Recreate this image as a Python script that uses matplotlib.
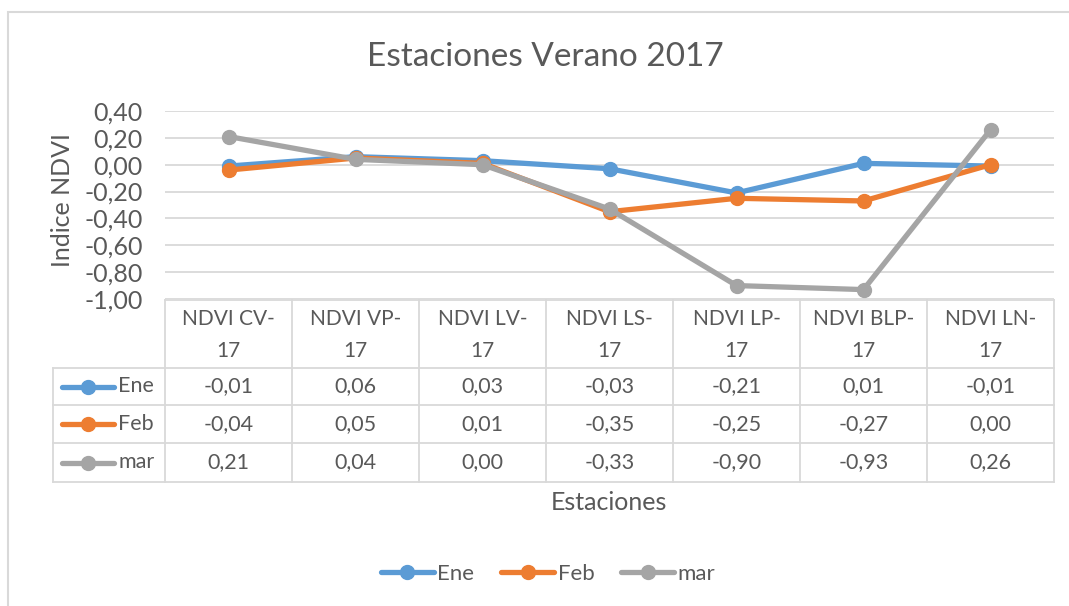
import matplotlib
matplotlib.use("Agg")
import matplotlib.pyplot as plt
from matplotlib.lines import Line2D
from matplotlib.patches import Rectangle

plt.rcParams['font.family'] = ['Lato', 'DejaVu Sans']

estaciones = ["NDVI CV-\n17", "NDVI VP-\n17", "NDVI LV-\n17", "NDVI LS-\n17",
              "NDVI LP-\n17", "NDVI BLP-\n17", "NDVI LN-\n17"]
meses = ["Ene", "Feb", "mar"]
ene = [-0.01, 0.06, 0.03, -0.03, -0.21, 0.01, -0.01]
feb = [-0.04, 0.05, 0.01, -0.35, -0.25, -0.27, 0.00]
mar = [0.21, 0.04, 0.00, -0.33, -0.90, -0.93, 0.26]
series = [ene, feb, mar]
colores = ["#5b9bd5", "#ed7d31", "#a5a5a5"]
yticks = [0.4, 0.2, 0.0, -0.2, -0.4, -0.6, -0.8, -1.0]

W, H = 1069, 606
txt = "#595959"
grid = "#d9d9d9"
fs = 15.5   # tabla
fs_ax = 18  # ejes

def fmt(v):
    return f"{v:.2f}".replace(".", ",")

fig = plt.figure(figsize=(W / 100, H / 100), dpi=100)

# borde del gráfico
fig.add_artist(Rectangle((8 / W, -0.1), 1.2, (H - 12) / H + 0.1,
                         transform=fig.transFigure, fill=False,
                         edgecolor=grid, linewidth=1.5))

# area del grafico
x0, x1 = 165, 1054
ytop, ybot = 111, 299
ax = fig.add_axes([x0 / W, (H - ybot) / H, (x1 - x0) / W, (ybot - ytop) / H])
n = len(estaciones)
xs = list(range(n))
for s, c, m in zip(series, colores, meses):
    ax.plot(xs, s, color=c, lw=3.8, marker="o", ms=10, label=m,
            solid_capstyle="round", clip_on=False)
ax.set_xlim(-0.5, n - 0.5)
ax.set_ylim(-1.0, 0.4)
ax.set_yticks(yticks)
ax.set_yticklabels([fmt(v) for v in yticks], color=txt, fontsize=fs_ax)
ax.set_xticks([])
ax.tick_params(axis="y", length=0, pad=16)
ax.grid(axis="y", color=grid, lw=1.3)
ax.set_axisbelow(True)
for sp in ax.spines.values():
    sp.set_visible(False)
fig.text(62 / W, 1 - 200 / H, "Indice NDVI", color=txt, fontsize=fs_ax,
         rotation=90, ha="center", va="center")
fig.text(545 / W, 1 - 57 / H, "Estaciones Verano 2017", color=txt,
         fontsize=24, ha="center", va="center")

# tabla de datos
cw = (x1 - x0) / n
tl, tt, tb = 53, 300, 482
rows = [300, 368, 405, 443, 482]
tax = fig.add_axes([tl / W, (H - tb) / H, (x1 - tl) / W, (tb - tt) / H])
xl = -0.5 - (x0 - tl) / cw
tax.set_xlim(xl, n - 0.5)
tax.set_ylim(tb, tt)
tax.axis("off")
lk = dict(color=grid, lw=1.3, clip_on=False)
tax.plot([-0.5, n - 0.5], [rows[0], rows[0]], **lk)
for r in rows[1:]:
    tax.plot([xl, n - 0.5], [r, r], **lk)
for k in range(n + 1):
    tax.plot([k - 0.5, k - 0.5], [rows[0], rows[-1]], **lk)
tax.plot([xl, xl], [rows[1], rows[-1]], **lk)
for i, e in enumerate(estaciones):
    tax.text(i, (rows[0] + rows[1]) / 2 + 1, e, ha="center", va="center",
             color=txt, fontsize=15, linespacing=1.75)
px = lambda p: -0.5 + (p - x0) / cw
for j, (s, c, m) in enumerate(zip(series, colores, meses)):
    yc = (rows[j + 1] + rows[j + 2]) / 2
    tax.plot([px(62), px(114)], [yc, yc], color=c, lw=3.8,
             solid_capstyle="round", clip_on=False)
    tax.plot([px(88)], [yc], "o", color=c, ms=10, clip_on=False)
    tax.text(px(118), yc, m, ha="left", va="center", color=txt, fontsize=fs)
    for i, v in enumerate(s):
        tax.text(i, yc, fmt(v), ha="center", va="center", color=txt, fontsize=fs)

fig.text(609 / W, 1 - 503 / H, "Estaciones", color=txt, fontsize=fs_ax,
         ha="center", va="center")

handles = [Line2D([], [], color=c, lw=3.8, marker="o", ms=10,
                  solid_capstyle="round") for c in colores]
fig.legend(handles, meses, loc="center", bbox_to_anchor=(548 / W, 1 - 574 / H),
           ncol=3, frameon=False, fontsize=16, labelcolor=txt,
           handlelength=2.4, handletextpad=0.15, columnspacing=1.2)

fig.savefig("out.png", dpi=100)
